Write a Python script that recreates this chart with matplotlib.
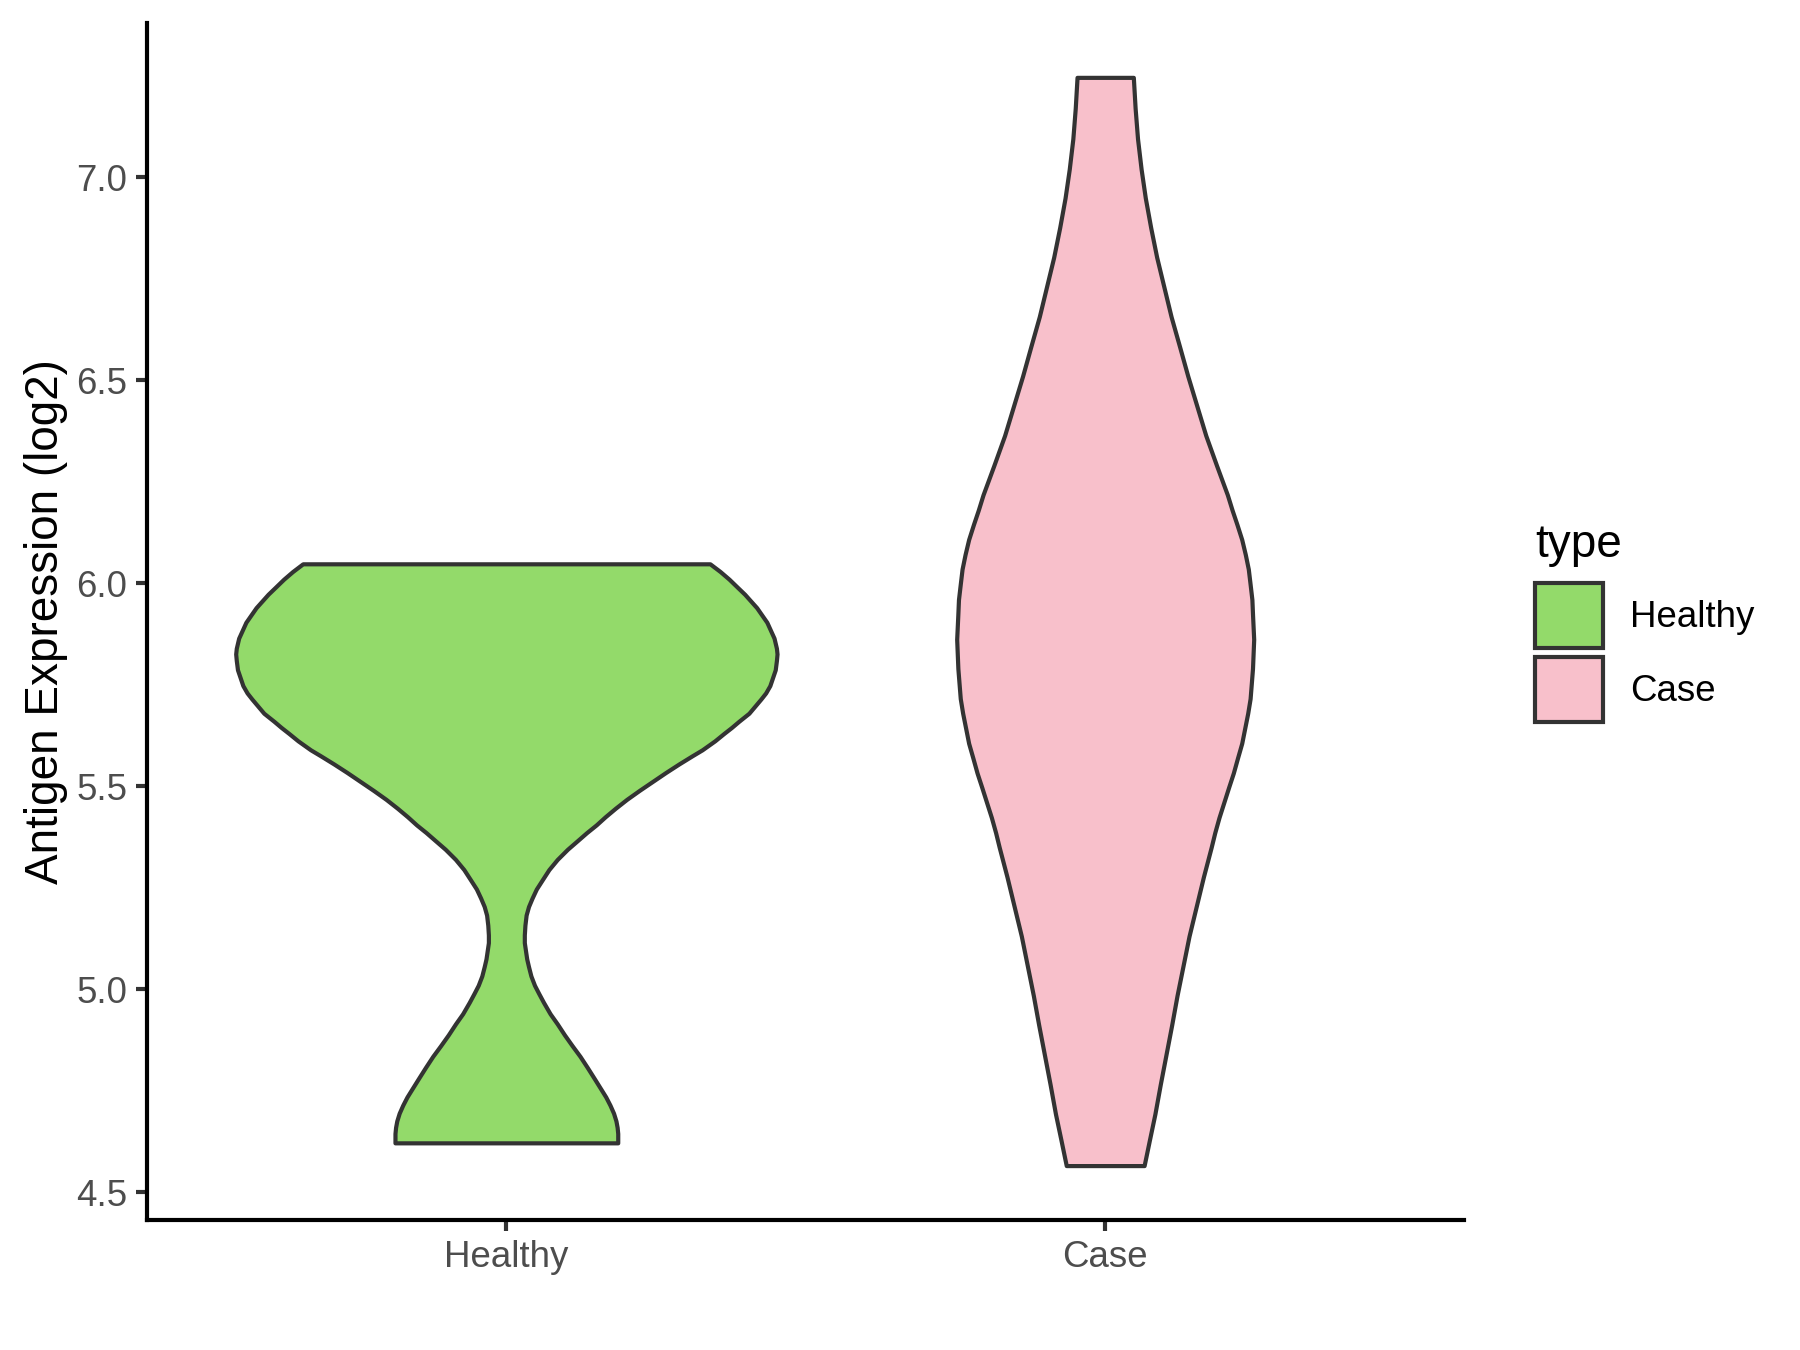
import numpy as np
import matplotlib.pyplot as plt
from matplotlib.patches import Patch

plt.rcParams['font.family'] = ['Liberation Sans', 'DejaVu Sans']

groups = ['Healthy', 'Case']
colors = ['#93DA6A', '#F8C0CB']

# violin outlines: expression level, half width (in x units)
healthy_y = [6.048, 6.029, 6.010, 5.990, 5.973, 5.940, 5.904, 5.865, 5.840, 5.826,
             5.810, 5.787, 5.748, 5.730, 5.715, 5.680, 5.660, 5.645, 5.630, 5.612,
             5.590, 5.575, 5.555, 5.534, 5.510, 5.490, 5.468, 5.446, 5.425, 5.405,
             5.386, 5.368, 5.345, 5.320, 5.295, 5.270, 5.247, 5.225, 5.204, 5.183,
             5.158, 5.134, 5.115, 5.095, 5.075, 5.056, 5.033, 5.010, 4.990, 4.968,
             4.940, 4.915, 4.888, 4.861, 4.835, 4.808, 4.780, 4.754, 4.735, 4.715,
             4.695, 4.676, 4.660, 4.645, 4.622]
healthy_w = [0.340, 0.357, 0.372, 0.386, 0.398, 0.418, 0.435, 0.447, 0.451, 0.452,
             0.451, 0.449, 0.440, 0.433, 0.425, 0.405, 0.388, 0.376, 0.363, 0.348,
             0.327, 0.310, 0.288, 0.266, 0.242, 0.222, 0.201, 0.182, 0.165, 0.150,
             0.134, 0.120, 0.102, 0.085, 0.071, 0.060, 0.050, 0.043, 0.037, 0.033,
             0.031, 0.030, 0.030, 0.032, 0.034, 0.037, 0.041, 0.047, 0.054, 0.062,
             0.073, 0.085, 0.097, 0.110, 0.123, 0.135, 0.147, 0.158, 0.166, 0.173,
             0.179, 0.183, 0.185, 0.186, 0.186]
case_y = [7.246, 7.170, 7.095, 7.020, 6.949, 6.876, 6.803, 6.730, 6.657, 6.584,
          6.510, 6.437, 6.364, 6.327, 6.290, 6.254, 6.218, 6.180, 6.145, 6.108,
          6.071, 6.035, 5.998, 5.960, 5.925, 5.862, 5.790, 5.753, 5.716, 5.680,
          5.643, 5.606, 5.570, 5.533, 5.497, 5.460, 5.423, 5.386, 5.350, 5.277,
          5.204, 5.131, 5.058, 4.985, 4.912, 4.839, 4.766, 4.693, 4.630, 4.566]
case_w = [0.047, 0.050, 0.054, 0.060, 0.067, 0.076, 0.086, 0.098, 0.110, 0.124,
          0.138, 0.153, 0.168, 0.177, 0.186, 0.195, 0.204, 0.212, 0.220, 0.228,
          0.234, 0.239, 0.242, 0.245, 0.246, 0.248, 0.246, 0.244, 0.242, 0.238,
          0.233, 0.228, 0.221, 0.214, 0.206, 0.198, 0.190, 0.183, 0.177, 0.164,
          0.152, 0.140, 0.130, 0.120, 0.111, 0.1015, 0.092, 0.083, 0.074, 0.065]
yticks = [4.5, 5.0, 5.5, 6.0, 6.5, 7.0]

fig = plt.figure(figsize=(6, 4.5), dpi=300)
ax = fig.add_axes([0.0817, 0.0963, 0.7319, 0.8867])

outlines = [(healthy_y, healthy_w), (case_y, case_w)]
for i, (yy, ww) in enumerate(outlines):
    c = i + 1
    yy = np.array(yy)
    ww = np.array(ww)
    ax.fill_betweenx(yy, c - ww, c + ww, facecolor=colors[i], edgecolor='#333333', linewidth=1.0)

ax.set_xlim(0.4, 2.6)
ax.set_ylim(4.432, 7.38)
ax.set_xticks([1, 2])
ax.set_xticklabels(groups)
ax.set_yticks(yticks)
ax.set_yticklabels(['%.1f' % t for t in yticks])
for s in ['top', 'right']:
    ax.spines[s].set_visible(False)
for s in ['left', 'bottom']:
    ax.spines[s].set_linewidth(1.0)
    ax.spines[s].set_color('black')
ax.tick_params(length=2.6, width=1.0, color='#333333', labelcolor='#4D4D4D', labelsize=8.8, pad=2.2)
ax.set_ylabel('Antigen Expression (log2)', fontsize=11, color='black')
ax.yaxis.set_label_coords(-0.060, 0.5)

handles = [Patch(facecolor=colors[i], edgecolor='#333333', linewidth=1.0) for i in range(2)]
leg = fig.legend(handles, groups, title='type', loc='upper left', bbox_to_anchor=(0.853, 0.6125),
                 frameon=False, fontsize=8.8, title_fontsize=11, handlelength=1.85, handleheight=2.35,
                 labelspacing=0.25, handletextpad=0.72, borderpad=0, borderaxespad=0, alignment='left')
leg._legend_box.sep = 3.85  # gap under the title

plt.savefig('out.png', dpi=300)
